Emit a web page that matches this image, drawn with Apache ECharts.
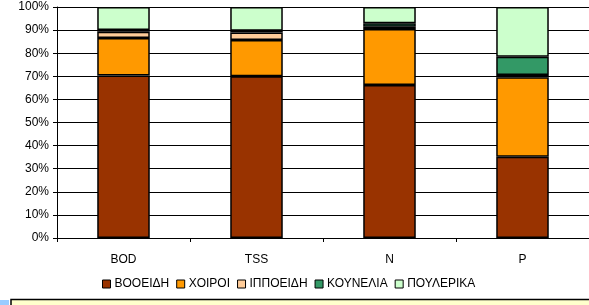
<!DOCTYPE html>
<html>
<head>
<meta charset="utf-8">
<style>
  html, body { margin: 0; padding: 0; background: #fff; }
  #chart { width: 589px; height: 305px; }
</style>
<script src="https://cdn.jsdelivr.net/npm/echarts@6/dist/echarts.min.js"></script>
</head>
<body>
<div id="chart"></div>
<script>
// δεδομένα (ποσοστά %)
const categories = ['BOD', 'TSS', 'N', 'P'];
const seriesNames = ['ΒΟΟΕΙΔΗ', 'ΧΟΙΡΟΙ', 'ΙΠΠΟΕΙΔΗ', 'ΚΟΥΝΕΛΙΑ', 'ΠΟΥΛΕΡΙΚΑ'];
const booeidi = [70.3, 70.0, 66.2, 35.2];
const xoiroi = [16.3, 15.7, 24.3, 34.4];
const ippoeidi = [2.7, 3.3, 1.0, 1.0];
const kounelia = [0.7, 0.7, 1.5, 7.9];
const poulerika = [10.0, 10.3, 7.0, 21.5];
const yTicks = [0, 10, 20, 30, 40, 50, 60, 70, 80, 90, 100];

const colors = ['#993300', '#FF9900', '#FFCC99', '#339966', '#CCFFCC'];
const allData = [booeidi, xoiroi, ippoeidi, kounelia, poulerika];

const chart = echarts.init(document.getElementById('chart'));

const option = {
  animation: false,
  textStyle: { fontFamily: 'Liberation Sans, Arial, sans-serif' },
  grid: { left: 57, right: -4, top: 7, bottom: 67 },
  legend: {
    bottom: 10,
    left: 97,
    itemWidth: 8,
    itemHeight: 8,
    itemGap: 7,
    icon: 'rect',
    textStyle: { fontSize: 12, color: '#000', padding: [0, 0, 0, -1] },
    itemStyle: { borderColor: '#000', borderWidth: 1 },
    data: seriesNames
  },
  xAxis: {
    type: 'category',
    data: categories,
    axisLine: { lineStyle: { color: '#000', width: 1 } },
    axisTick: { show: true, length: 4, lineStyle: { color: '#000' } },
    axisLabel: { color: '#000', fontSize: 12, margin: 16 }
  },
  yAxis: {
    type: 'value',
    min: 0,
    max: 100,
    interval: 10,
    axisLine: { show: true, lineStyle: { color: '#000', width: 1 } },
    axisTick: { show: true, length: 4, lineStyle: { color: '#000' } },
    axisLabel: {
      color: '#000',
      fontSize: 12,
      margin: 8,
      formatter: v => yTicks.includes(v) ? v + '%' : ''
    },
    splitLine: { show: true, lineStyle: { color: '#000', width: 1 } }
  },
  series: seriesNames.map((name, i) => ({
    name: name,
    type: 'bar',
    stack: 'total',
    barWidth: '39.5%',
    data: allData[i],
    itemStyle: { color: colors[i], borderColor: '#000', borderWidth: 1.5 }
  })),
  graphic: [
    { type: 'rect', shape: { x: 11, y: 299.5, width: 590, height: 10 },
      style: { fill: '#FFFFCC', stroke: '#000', lineWidth: 1.5 } },
    { type: 'rect', shape: { x: 0, y: 300, width: 9, height: 6 },
      style: { fill: '#99CCFF', stroke: null } }
  ]
};

chart.setOption(option);

window.addEventListener('resize', () => {
  chart.resize();
});
</script>
</body>
</html>
